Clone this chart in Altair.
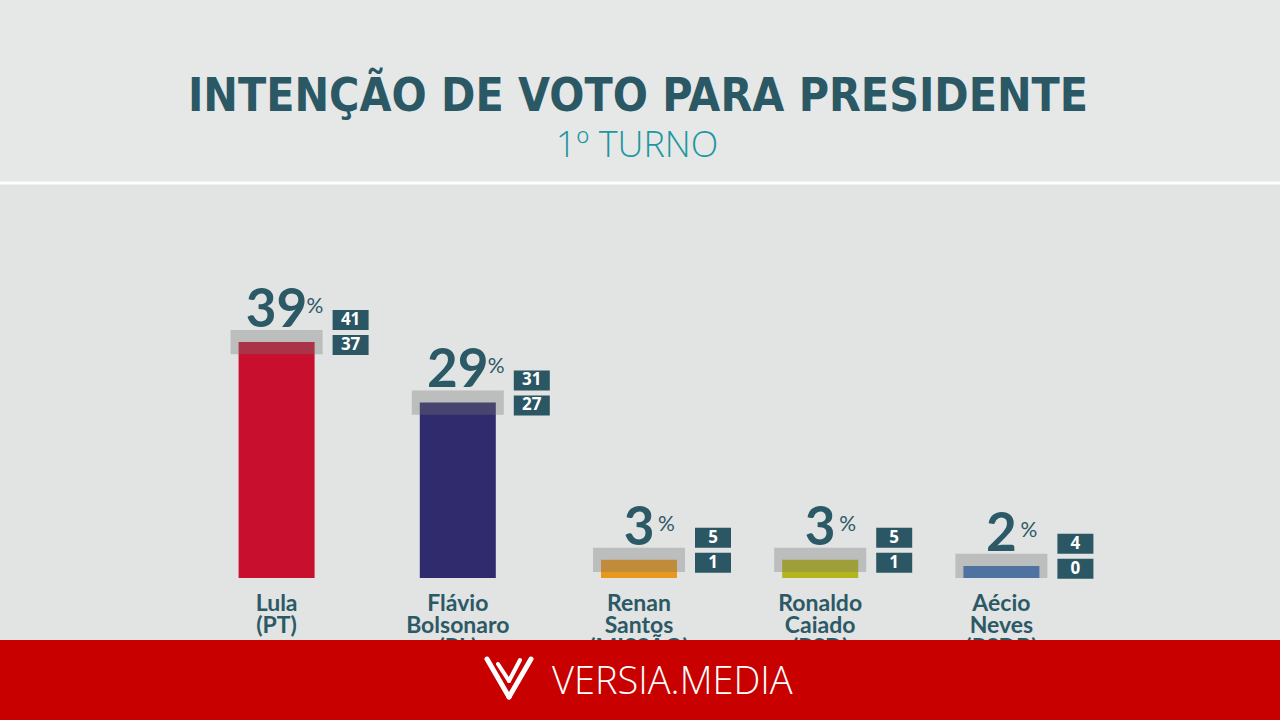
import altair as alt
import pandas as pd

# ---- data ----
candidatos = ["Lula", "Flávio Bolsonaro", "Renan Santos", "Ronaldo Caiado", "Aécio Neves"]
rotulos = ["Lula\n(PT)", "Flávio\nBolsonaro\n(PL)", "Renan\nSantos\n(MISSÃO)",
           "Ronaldo\nCaiado\n(PSD)", "Aécio\nNeves\n(PSDB)"]
valores = [39, 29, 3, 3, 2]
maximos = [41, 31, 5, 5, 4]
minimos = [37, 27, 1, 1, 0]
cores = ["#c8102e", "#2f2b6c", "#e8981c", "#b4b41c", "#3a72b8"]

titulo = "INTENÇÃO DE VOTO PARA PRESIDENTE"
subtitulo = "1º TURNO"
marca = "VERSIA.MEDIA"

df = pd.DataFrame({
    "cand": candidatos,
    "rotulo": rotulos,
    "valor": valores,
    "max": maximos,
    "min": minimos,
})
df["valor_txt"] = df["valor"].astype(str)
df["max_txt"] = df["max"].astype(str)
df["min_txt"] = df["min"].astype(str)

TEAL = "#2c5966"
BOX = "#2b5663"

xs = alt.X("cand:N", sort=candidatos, axis=None,
           scale=alt.Scale(domain=candidatos, range=[186, 1092], paddingInner=0, paddingOuter=0))
ys = alt.Scale(domain=[0, 100], range=[578, -27], nice=False, zero=True)

base = alt.Chart(df)

bars = base.mark_bar(size=76).encode(
    x=xs,
    y=alt.Y("valor:Q", scale=ys, axis=None),
    y2=alt.datum(0),
    color=alt.Color("cand:N", scale=alt.Scale(domain=candidatos, range=cores), legend=None),
)

band = base.mark_bar(size=92, color="#757575", opacity=0.35).encode(
    x=xs,
    y=alt.Y("max:Q", scale=ys, axis=None),
    y2="min:Q",
)

num = base.mark_text(font="Lato", fontSize=53, fontWeight="bold", color=TEAL,
                     baseline="alphabetic", align="center", dy=-3).encode(
    x=xs, y=alt.Y("max:Q", scale=ys, axis=None), text="valor_txt:N")

pct2 = base.transform_filter("datum.valor >= 10").mark_text(
    font="Lato", fontSize=21, color=TEAL, baseline="alphabetic", align="left",
    dx=30, dy=-17).encode(x=xs, y=alt.Y("max:Q", scale=ys, axis=None), text=alt.value("%"))
pct1 = base.transform_filter("datum.valor < 10").mark_text(
    font="Lato", fontSize=21, color=TEAL, baseline="alphabetic", align="left",
    dx=19, dy=-17).encode(x=xs, y=alt.Y("max:Q", scale=ys, axis=None), text=alt.value("%"))

box_hi = base.mark_tick(orient="horizontal", size=36, thickness=20, opacity=1, color=BOX,
                        xOffset=74, yOffset=-10).encode(
    x=xs, y=alt.Y("max:Q", scale=ys, axis=None))
box_lo = base.mark_tick(orient="horizontal", size=36, thickness=20, opacity=1, color=BOX,
                        xOffset=74, yOffset=15).encode(
    x=xs, y=alt.Y("max:Q", scale=ys, axis=None))
txt_hi = base.mark_text(font="Open Sans", fontSize=17, fontWeight="bold", color="white",
                        baseline="middle", align="center", dx=74, dy=-10).encode(
    x=xs, y=alt.Y("max:Q", scale=ys, axis=None), text="max_txt:N")
txt_lo = base.mark_text(font="Open Sans", fontSize=17, fontWeight="bold", color="white",
                        baseline="middle", align="center", dx=74, dy=15).encode(
    x=xs, y=alt.Y("max:Q", scale=ys, axis=None), text="min_txt:N")

names = base.mark_text(font="Lato", fontSize=23, fontWeight="bold", color=TEAL,
                       baseline="alphabetic", align="center", dy=33, lineBreak="\n",
                       lineHeight=22).encode(
    x=xs, y=alt.datum(0, scale=ys), text="rotulo:N")

one = alt.Data(values=[{"k": 1}])

header_bg = alt.Chart(one).mark_rect(color="#e6e7e7").encode(
    x=alt.value(0), x2=alt.value(1280), y=alt.value(0), y2=alt.value(182))
line = alt.Chart(one).mark_rule(color="white", strokeWidth=3, opacity=0.95).encode(
    x=alt.value(0), x2=alt.value(1280), y=alt.value(183))
t1 = alt.Chart(one).mark_text(font="DejaVu Sans Condensed, sans-serif",
                              fontSize=46, fontWeight="bold", color="#2a5864",
                              align="center", baseline="alphabetic").encode(
    x=alt.value(638), y=alt.value(111), text=alt.value(titulo))
t2 = alt.Chart(one).mark_text(font="Open Sans, sans-serif",
                              fontSize=36, fontWeight=300, color="#1d97a0",
                              align="center", baseline="alphabetic").encode(
    x=alt.value(637), y=alt.value(157), text=alt.value(subtitulo))

banner = alt.Chart(one).mark_rect(color="#c80000").encode(
    x=alt.value(0), x2=alt.value(1280), y=alt.value(640), y2=alt.value(720))
logo_a = alt.Chart(one).mark_rule(color="white", strokeWidth=5, strokeCap="round").encode(
    x=alt.value(487), y=alt.value(659), x2=alt.value(509), y2=alt.value(697))
logo_b = alt.Chart(one).mark_rule(color="white", strokeWidth=5, strokeCap="round").encode(
    x=alt.value(509), y=alt.value(697), x2=alt.value(531), y2=alt.value(659))
logo_c = alt.Chart(one).mark_rule(color="white", strokeWidth=4, strokeCap="round").encode(
    x=alt.value(498), y=alt.value(664), x2=alt.value(509), y2=alt.value(681))
logo_d = alt.Chart(one).mark_rule(color="white", strokeWidth=4, strokeCap="round").encode(
    x=alt.value(509), y=alt.value(681), x2=alt.value(520), y2=alt.value(660))
brand = alt.Chart(one).mark_text(font="Open Sans", fontSize=38, fontWeight=300, color="white",
                                 align="left", baseline="alphabetic").encode(
    x=alt.value(552), y=alt.value(694), text=alt.value(marca))

chart = alt.layer(
    header_bg, line, t1, t2,
    bars, band, num, pct2, pct1, box_hi, box_lo, txt_hi, txt_lo, names,
    banner, logo_a, logo_b, logo_c, logo_d, brand,
).properties(
    width=1280, height=720, padding=0,
    autosize=alt.AutoSizeParams(type="none"),
    background="#e2e3e3",
).configure_view(stroke=None)

chart.save("out.html", embed_options={"renderer": "svg", "actions": False})
